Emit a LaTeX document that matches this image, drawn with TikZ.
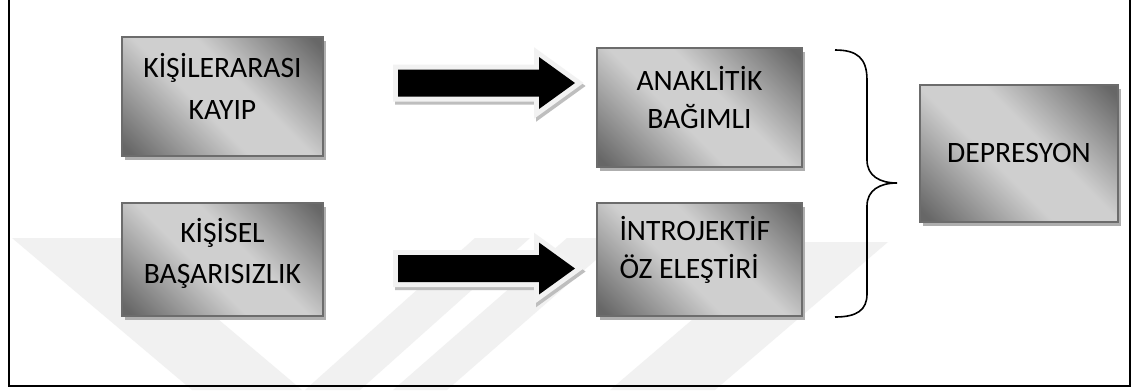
\documentclass[tikz,border=0pt]{standalone}
\usepackage{fontspec}
\setmainfont{Carlito}
\usetikzlibrary{calc,shadows}
\definecolor{shdark}{HTML}{676767}
\definecolor{shlight}{HTML}{CFCFCF}
\definecolor{boxline}{HTML}{6C6C6C}
\definecolor{boxshadow}{HTML}{AEAEAE}
\definecolor{wm}{HTML}{F1F1F1}
\definecolor{arrowglow}{HTML}{F2F2F2}
\definecolor{arrowshadow}{HTML}{BEBEBE}
\pgfdeclarehorizontalshading{boxshade}{100bp}{color(0bp)=(shdark); color(17bp)=(shdark); color(43bp)=(shlight); color(57bp)=(shlight); color(83bp)=(shdark); color(100bp)=(shdark)}
\newcommand\blockarrowpath{(0,-13.5) -- (141,-13.5) -- (141,-26) -- (177,0) -- (141,26) -- (141,13.5) -- (0,13.5) -- cycle}
\begin{document}
\begin{tikzpicture}[x=0.75pt,y=-0.75pt,
  box/.style={rectangle, draw=boxline, line width=1.1pt, shading=boxshade, shading angle=45,
    inner sep=0pt, drop shadow={opacity=1, fill=boxshadow, shadow xshift=2.4pt, shadow yshift=-3pt}},
  txt/.style={inner sep=0pt, font=\fontsize{22.2}{32}\selectfont, text=black},
  wmark/.style={fill=wm},
  glow/.style={draw=arrowglow, fill=arrowglow, line width=7.5pt, miter limit=10},
  ashadow/.style={draw=arrowshadow, fill=arrowshadow, line width=7.5pt, miter limit=10},
  blk/.style={fill=black},
  brace/.style={draw=black, line width=1.2pt},
  frame/.style={draw=black, line width=1.6pt}]
\useasboundingbox (0,0) rectangle (1136,390);
\fill[white] (0,0) rectangle (1136,390);
% watermark
\fill[wmark] (12,238) -- (122,238) -- (302,390) -- (192,390) -- cycle;
\fill[wmark] (305,390) -- (360,390) -- (530,238) -- (475,238) -- cycle;
\fill[wmark] (393,390) -- (447,390) -- (621,238) -- (567,238) -- cycle;
\fill[wmark] (610,390) -- (715,390) -- (888,242) -- (783,242) -- cycle;
% frame
\draw[frame] (9,0) -- (9,386) -- (1130,386) -- (1130,0);
% boxes
\node[box, minimum width=150.75pt, minimum height=89.25pt] (b1) at (222.5,96.5) {};
\node[box, minimum width=150.75pt, minimum height=84.75pt] (b2) at (222.5,259.5) {};
\node[box, minimum width=153.75pt, minimum height=89.25pt] (b3) at (699.5,107.5) {};
\node[box, minimum width=153.75pt, minimum height=84.75pt] (b4) at (699.5,259.5) {};
\node[box, minimum width=148.5pt, minimum height=102.75pt] (b5) at (1019,153.5) {};
% texts
\node[txt, anchor=base] (t1a) at ($(b1.center)+(0,-19.5)$) {KİŞİLERARASI};
\node[txt, anchor=base] (t1b) at ($(b1.center)+(0,22.5)$) {KAYIP};
\node[txt, anchor=base] (t2a) at ($(b2.center)+(0,-17.5)$) {KİŞİSEL};
\node[txt, anchor=base] (t2b) at ($(b2.center)+(0,23.5)$) {BAŞARISIZLIK};
\node[txt, anchor=base] (t3a) at ($(b3.center)+(0,-17.5)$) {ANAKLİTİK};
\node[txt, anchor=base] (t3b) at ($(b3.center)+(0,20.5)$) {BAĞIMLI};
\node[txt, anchor=base west] (t4a) at ($(b4.west)+(23,-19.5)$) {İNTROJEKTİF};
\node[txt, anchor=base west] (t4b) at ($(b4.west)+(23,18.5)$) {ÖZ ELEŞTİRİ};
\node[txt, anchor=base] (t5) at ($(b5.center)+(0,8.5)$) {DEPRESYON};
% block arrows
\coordinate (a1) at (398,83);
\coordinate (a2) at (398,268.5);
\foreach \a in {a1,a2}{
  \path[ashadow, shift={($(\a)+(2,3)$)}] \blockarrowpath;
  \path[glow, shift={(\a)}] \blockarrowpath;
  \path[blk, shift={(\a)}] \blockarrowpath;
}
% brace
\draw[brace] (835,50) .. controls (857,50) and (867,58) .. (867,80) -- (867,160)
  .. controls (867,176) and (880,183) .. (897,183)
  .. controls (880,183) and (867,190) .. (867,206) -- (867,294)
  .. controls (867,310) and (857,317) .. (835,317);
\end{tikzpicture}
\end{document}
